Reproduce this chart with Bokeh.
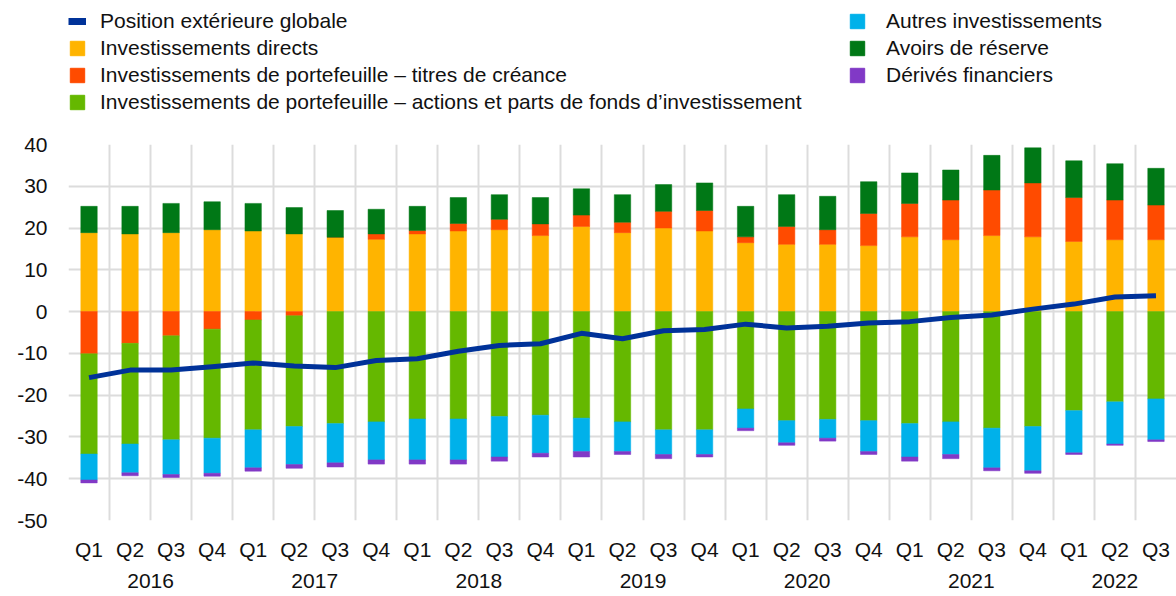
from bokeh.plotting import figure
from bokeh.layouts import column
from bokeh.models import (ColumnDataSource, Range1d, FixedTicker, LinearAxis, Legend, LegendItem)
from bokeh.embed import file_html
from bokeh.resources import INLINE

quarters = ["Q1", "Q2", "Q3", "Q4"] * 6 + ["Q1", "Q2", "Q3"]
years = ["2016", "2017", "2018", "2019", "2020", "2021", "2022"]
y_ticks = [-50, -40, -30, -20, -10, 0, 10, 20, 30, 40]

direct = [18.9, 18.6, 18.9, 19.6, 19.3, 18.6, 17.8, 17.3, 18.6, 19.3, 19.6, 18.2, 20.4, 18.9,
          20.0, 19.3, 16.5, 16.1, 16.1, 15.8, 17.9, 17.2, 18.2, 17.9, 16.8, 17.2, 17.2]
debt = [-10.1, -7.6, -5.8, -4.2, -2.0, -1.0, 0.0, 1.3, 0.8, 1.8, 2.5, 2.8, 2.7, 2.5,
        4.0, 4.9, 1.4, 4.3, 3.5, 7.7, 8.0, 9.5, 10.9, 12.9, 10.5, 9.5, 8.3]
equity = [-24.0, -24.1, -24.9, -26.1, -26.3, -26.5, -26.8, -26.4, -25.7, -25.7, -25.1, -24.8, -25.5, -26.4,
          -28.3, -28.3, -23.3, -26.1, -25.8, -26.1, -26.8, -26.4, -27.9, -27.5, -23.7, -21.6, -20.9]
other = [-6.2, -6.9, -8.3, -8.4, -9.1, -9.1, -9.4, -9.1, -9.8, -9.8, -9.7, -9.1, -8.0, -7.1,
         -5.9, -5.9, -4.6, -5.3, -4.5, -7.4, -8.0, -7.8, -9.5, -10.6, -10.1, -10.1, -9.8]
reserve = [6.3, 6.6, 7.0, 6.7, 6.6, 6.3, 6.4, 5.9, 5.8, 6.2, 5.9, 6.3, 6.3, 6.6,
           6.4, 6.6, 7.3, 7.6, 8.0, 7.6, 7.3, 7.2, 8.3, 8.4, 8.8, 8.7, 8.8]
deriv = [-0.7, -0.7, -0.7, -0.7, -0.8, -0.9, -1.0, -1.0, -1.0, -1.0, -1.0, -0.9, -1.3, -0.7,
         -1.0, -0.6, -0.6, -0.6, -0.7, -0.7, -1.0, -1.0, -0.7, -0.6, -0.4, -0.3, -0.4]
total = [-15.8, -14.0, -14.0, -13.2, -12.3, -13.0, -13.4, -11.7, -11.3, -9.5, -8.1, -7.7, -5.2, -6.5,
         -4.6, -4.3, -3.0, -3.9, -3.5, -2.7, -2.4, -1.4, -0.8, 0.6, 1.8, 3.5, 3.8]

labels = {
    "total": "Position extérieure globale",
    "direct": "Investissements directs",
    "debt": "Investissements de portefeuille \u2013 titres de créance",
    "equity": "Investissements de portefeuille \u2013 actions et parts de fonds d\u2019investissement",
    "other": "Autres investissements",
    "reserve": "Avoirs de réserve",
    "deriv": "Dérivés financiers",
}
colors = {
    "total": "#003299",
    "direct": "#FFB400",
    "debt": "#FF4B00",
    "equity": "#65B800",
    "other": "#00B1EA",
    "reserve": "#007816",
    "deriv": "#8139C6",
}

FONT = "Liberation Sans"
FS = "21px"
TXT = "#111111"
n = len(quarters)
xs = [i + 0.5 for i in range(n)]

# ---------------- main chart ----------------
p = figure(width=1176, height=471, frame_width=1108, frame_height=376,
           output_backend="svg", toolbar_location=None,
           x_range=Range1d(0, n), y_range=Range1d(y_ticks[0], y_ticks[-1]),
           min_border_left=68, min_border_right=0, min_border_top=20, min_border_bottom=0)
p.outline_line_color = None

p.ygrid.ticker = FixedTicker(ticks=y_ticks)
p.xgrid.ticker = FixedTicker(ticks=list(range(0, n + 1)))
for g in (p.xgrid, p.ygrid):
    g.grid_line_color = "#dcdcdc"
    g.grid_line_width = 2


def style_axis(ax, standoff):
    ax.axis_line_color = None
    ax.major_tick_line_color = None
    ax.minor_tick_line_color = None
    ax.major_tick_out = 0
    ax.major_tick_in = 0
    ax.minor_tick_out = 0
    ax.minor_tick_in = 0
    ax.major_label_standoff = standoff
    ax.major_label_text_font = FONT
    ax.major_label_text_font_size = FS
    ax.major_label_text_color = TXT


p.yaxis.ticker = FixedTicker(ticks=y_ticks)
p.yaxis.major_label_overrides = {v: str(v) for v in y_ticks}
style_axis(p.yaxis[0], 21)

p.xaxis.ticker = FixedTicker(ticks=xs)
p.xaxis.major_label_overrides = {x: q for x, q in zip(xs, quarters)}
style_axis(p.xaxis[0], 17)

year_pos = []
start = 0
for y in years:
    end = start + 1
    while end < n and quarters[end] != "Q1":
        end += 1
    year_pos.append((start + end) / 2)
    start = end
yax = LinearAxis(ticker=FixedTicker(ticks=year_pos),
                 major_label_overrides={pos: y for pos, y in zip(year_pos, years)})
style_axis(yax, 10)
p.add_layout(yax, "below")

series = [("direct", direct), ("debt", debt), ("equity", equity),
          ("other", other), ("reserve", reserve), ("deriv", deriv)]
pos_base = [0.0] * n
neg_base = [0.0] * n
for key, vals in series:
    bottoms, tops = [], []
    for i, v in enumerate(vals):
        if v >= 0:
            b, t = pos_base[i], pos_base[i] + v
            pos_base[i] = t
        else:
            b, t = neg_base[i] + v, neg_base[i]
            neg_base[i] = b
        bottoms.append(b)
        tops.append(t)
    src = ColumnDataSource(dict(x=xs, top=tops, bottom=bottoms))
    p.vbar(x="x", top="top", bottom="bottom", width=0.4, source=src,
           fill_color=colors[key], line_color=colors[key], line_width=0.5)

line_src = ColumnDataSource(dict(x=xs, y=total))
p.line(x="x", y="y", source=line_src, line_color=colors["total"], line_width=5, line_join="round")

# ---------------- legend strip ----------------
top = figure(width=1176, height=124, output_backend="svg", toolbar_location=None,
             x_axis_type=None, y_axis_type=None, x_range=Range1d(0, 1), y_range=Range1d(0, 1),
             min_border_left=0, min_border_right=0, min_border_top=0, min_border_bottom=0)
top.outline_line_color = None

# proxy renderers (their single point lies outside the strip's visible range)
proxies = {"total": top.line(x=[10, 11], y=[10, 10], line_color=colors["total"], line_width=7)}
for key, _ in series:
    proxies[key] = top.vbar(x=[10], top=[10], width=0.4,
                            fill_color=colors[key], line_color=colors[key])


def make_legend(keys, loc, standoff):
    items = [LegendItem(label=labels[k], renderers=[proxies[k]]) for k in keys]
    lg = Legend(items=items, location=loc)
    lg.border_line_color = None
    lg.background_fill_alpha = 0
    lg.padding = 0
    lg.margin = 0
    lg.spacing = 3
    lg.glyph_width = 18
    lg.glyph_height = 18
    lg.label_height = 21
    lg.label_standoff = standoff
    lg.label_text_font = FONT
    lg.label_text_font_size = FS
    lg.label_text_color = TXT
    return lg


top.add_layout(make_legend(["total", "direct", "debt", "equity"], (0, 10), 14), "center")
top.add_layout(make_legend(["other", "reserve", "deriv"], (780, 37), 20), "center")

open("out.html", "w").write(file_html(column(top, p), INLINE))
